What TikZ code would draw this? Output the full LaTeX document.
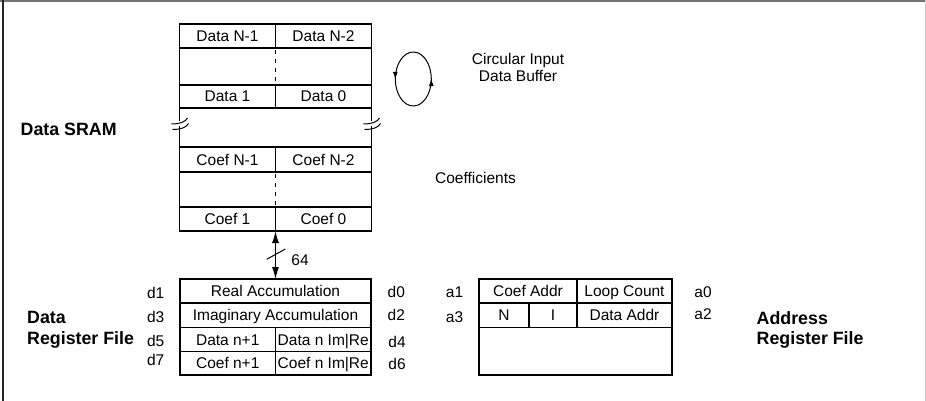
\documentclass[tikz,border=0pt]{standalone}
\usepackage{fontspec}
\setmainfont{Liberation Sans}
\usetikzlibrary{arrows.meta,decorations.markings}

\tikzset{
  txt/.style={inner sep=0pt, font=\fontsize{15.5}{17.7}\selectfont,
              text height=11pt, text depth=0pt},
  cell/.style={draw, line width=1.1pt, inner sep=0pt, outer sep=0pt,
               font=\fontsize{15.5}{17.7}\selectfont,
               text height=11pt, text depth=0pt},
  ttl/.style={inner sep=0pt, anchor=west, align=left,
              font=\bfseries\fontsize{17.8}{20.7}\selectfont},
  wire/.style={line width=1.1pt},
  brk/.style={line width=1pt},
  bustip/.tip={Latex[length=12pt,width=7pt]},
}

\begin{document}
\begin{tikzpicture}[x=1pt,y=-1pt]
\useasboundingbox (0,0) rectangle (926,401);

% page frame
\draw[line width=2pt, black!55] (0,1) -- (926,1);
\draw[line width=1.5pt, black!85] (3,0) -- (3,401);
\draw[line width=1pt, black!20] (925,0) -- (925,401);

% ---------------- Data SRAM ----------------
\node[cell, minimum width=192pt, minimum height=207pt] (sram) at (275.5,127.5) {};
\node[cell, minimum width=96pt, minimum height=24pt] (dA) at (227.5,36) {Data N-1};
\node[cell, minimum width=96pt, minimum height=24pt] (dB) at (323.5,36) {Data N-2};
\node[cell, minimum width=96pt, minimum height=23pt] (dC) at (227.5,96.5) {Data 1};
\node[cell, minimum width=96pt, minimum height=23pt] (dD) at (323.5,96.5) {Data 0};
\node[cell, minimum width=96pt, minimum height=25pt] (cA) at (227.5,159.5) {Coef N-1};
\node[cell, minimum width=96pt, minimum height=25pt] (cB) at (323.5,159.5) {Coef N-2};
\node[cell, minimum width=96pt, minimum height=24pt] (cC) at (227.5,219) {Coef 1};
\node[cell, minimum width=96pt, minimum height=24pt] (cD) at (323.5,219) {Coef 0};

% dashed column dividers through the elided rows
\draw[wire, dash pattern=on 4pt off 5pt, dash phase=-2pt] (dA.south east) -- (dC.north east);
\draw[wire, dash pattern=on 4pt off 5pt, dash phase=-2pt] (cA.south east) -- (cC.north east);

% break marks on both sides of the memory
\foreach \bx in {179.5,371.5}{
  \fill[white] (\bx-2,121.5) rectangle (\bx+2,126.5);
  \draw[brk] (\bx-8,124) .. controls (\bx,124) and (\bx+6,122) .. (\bx+8,118);
  \draw[brk] (\bx-7,129.5) .. controls (\bx+1,129.5) and (\bx+7,127.5) .. (\bx+9,123.5);
}

\node[ttl] (sramlbl) at (20.5,129) {Data SRAM};

% circular buffer symbol (runs anticlockwise)
\coordinate (loop) at (413.3,79);
\draw[line width=1pt,
      decoration={markings,
        mark=at position 0.25 with {\arrow{Latex[length=7pt,width=5pt]}},
        mark=at position 0.75 with {\arrow{Latex[length=7pt,width=5pt]}}},
      postaction={decorate}]
  ([yshift=27pt]loop) arc[start angle=90, end angle=450, x radius=18pt, y radius=27pt];
\node[txt, align=center, text height=, text depth=] (circlbl) at (518,67.5) {Circular Input\\Data Buffer};
\node[txt] (coeflbl) at (475.5,177.5) {Coefficients};

% ---------------- Data register file ----------------
\node[cell, minimum width=191pt, minimum height=24pt] (real) at (275.5,291) {Real Accumulation};
\node[cell, minimum width=191pt, minimum height=24.5pt] (imag) at (275.5,315.25) {Imaginary Accumulation};
\node[cell, minimum width=95.5pt, minimum height=24pt] (dn1) at (227.75,339.5) {Data n+1};
\node[cell, minimum width=95.5pt, minimum height=24pt] (dnr) at (323.25,339.5) {Data n Im|Re};
\node[cell, minimum width=95.5pt, minimum height=23.5pt] (cn1) at (227.75,363.25) {Coef n+1};
\node[cell, minimum width=95.5pt, minimum height=23.5pt] (cnr) at (323.25,363.25) {Coef n Im|Re};

\node[txt] (d1) at (155.7,292.7) {d1};
\node[txt] (d3) at (155.7,317) {d3};
\node[txt] (d5) at (155.7,340.7) {d5};
\node[txt] (d7) at (155.7,360) {d7};
\node[txt] (d0) at (396.3,292) {d0};
\node[txt] (d2) at (396.3,315) {d2};
\node[txt] (d4) at (397,341.7) {d4};
\node[txt] (d6) at (397,364.3) {d6};

\node[ttl] (drflbl) at (27,330) {Data\\Register File};

% 64-bit bus between memory and data registers
\draw[wire, bustip-bustip] (sram.south) -- (real.north);
\draw[line width=1pt] (266.7,259.3) -- (285.3,249);
\node[txt] (buswidth) at (300,260) {64};

% ---------------- Address register file ----------------
\node[cell, minimum width=193pt, minimum height=96pt] (arf) at (575.5,327) {};
\node[cell, minimum width=98pt, minimum height=24pt] (caddr) at (528,291) {Coef Addr};
\node[cell, minimum width=95pt, minimum height=24pt] (lcount) at (624.5,291) {Loop Count};
\node[cell, minimum width=50pt, minimum height=24.5pt] (nn) at (504,315.25) {N};
\node[cell, minimum width=48pt, minimum height=24.5pt] (ii) at (553,315.25) {I};
\node[cell, minimum width=95pt, minimum height=24.5pt] (daddr) at (624.5,315.25) {Data Addr};

\node[txt] (a1) at (454.5,292) {a1};
\node[txt] (a3) at (454.5,316.7) {a3};
\node[txt] (a0) at (703,291.7) {a0};
\node[txt] (a2) at (703,314.3) {a2};

\node[ttl] (arflbl) at (756.5,330) {Address\\Register File};
\end{tikzpicture}
\end{document}
